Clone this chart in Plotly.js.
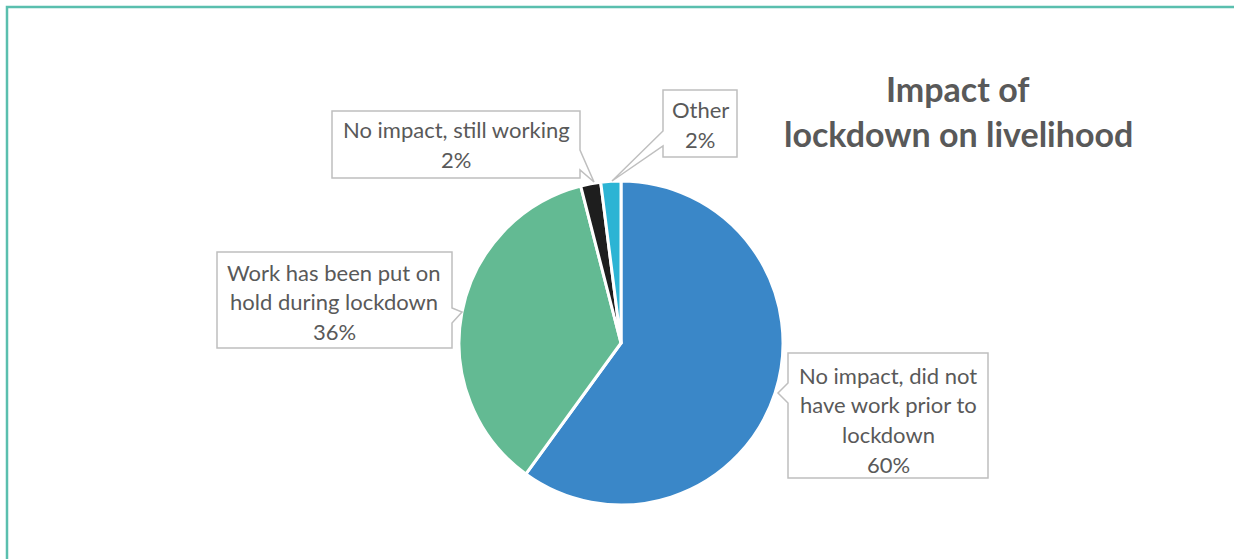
<!DOCTYPE html>
<html>
<head>
<meta charset="utf-8">
<script src="https://cdn.plot.ly/plotly-3.0.1.min.js"></script>
<style>html,body{margin:0;padding:0;background:#fff;}#chart{width:1234px;height:559px;}</style>
</head>
<body>
<div id="chart"></div>
<script>
// ---- data ----
const titleLines = ["Impact of", "lockdown on livelihood"];
const labels = [
  "No impact, did not have work prior to lockdown",
  "Work has been put on hold during lockdown",
  "No impact, still working",
  "Other"
];
const values = [60, 36, 2, 2];
const sliceColors = ["#3A87C8", "#63BA93", "#1E1E1E", "#2CB4D4"];

// ---- layout helpers (pixel positions of the label boxes) ----
const W = 1234, H = 559;
const px = x => x / W;
const py = y => 1 - y / H;
const textColor = "#595959";
const fontFam = "Lato, 'Open Sans', sans-serif";

// per slice: wrap width (chars), text centre x, first line y, line step, callout box outline
const boxes = [
  {wrap: 20, cx: 888, y0: 375, step: 29.7,
   pts: [[788,353],[988,353],[988,478],[788,478],[788,403],[778,393],[788,383]]},
  {wrap: 21, cx: 334, y0: 272, step: 29.5,
   pts: [[217,252],[452,252],[452,308],[462,312],[452,323],[452,348],[217,348]]},
  {wrap: 26, cx: 456, y0: 130, step: 29.5,
   pts: [[332,111],[580,111],[580,150],[594,182],[580,170],[580,178],[332,178]]},
  {wrap: 10, cx: 700, y0: 110, step: 29.5,
   pts: [[663,90],[737,90],[737,157],[663,157],[663,146],[612,181],[663,131]]}
];

function wrap(text, maxChars) {
  const words = text.split(" ");
  const lines = [];
  let cur = "";
  for (const w of words) {
    const test = cur ? cur + " " + w : w;
    if (test.length > maxChars && cur) { lines.push(cur); cur = w; }
    else cur = test;
  }
  if (cur) lines.push(cur);
  return lines;
}

const total = values.reduce((a, b) => a + b, 0);
const shapes = [];
const annotations = [];

// outer frame
shapes.push({type: "rect", xref: "paper", yref: "paper",
  x0: px(7), x1: px(1250), y0: py(7), y1: py(580),
  line: {color: "#5ABFAE", width: 2.5}, fillcolor: "rgba(0,0,0,0)", layer: "below"});

labels.forEach((lab, i) => {
  const b = boxes[i];
  const path = b.pts.map((p, k) => (k ? "L" : "M") + px(p[0]) + "," + py(p[1])).join(" ") + " Z";
  shapes.push({type: "path", xref: "paper", yref: "paper", path: path,
    line: {color: "#BFBFBF", width: 1.5}, fillcolor: "#FFFFFF", layer: "above"});
  const lines = wrap(lab, b.wrap);
  lines.push(Math.round(values[i] / total * 100) + "%");
  lines.forEach((ln, k) => {
    annotations.push({xref: "paper", yref: "paper", x: px(b.cx), y: py(b.y0 + k * b.step),
      xanchor: "center", yanchor: "middle", showarrow: false, text: ln,
      font: {family: fontFam, size: 22, color: textColor}});
  });
});

titleLines.forEach((t, k) => {
  annotations.push({xref: "paper", yref: "paper", x: px(958), y: py(88 + k * 45),
    xanchor: "center", yanchor: "middle", showarrow: false, text: "<b>" + t + "</b>",
    font: {family: fontFam, size: 34, color: textColor}});
});

const trace = {
  type: "pie",
  labels: labels,
  values: values,
  marker: {colors: sliceColors, line: {color: "#FFFFFF", width: 3}},
  sort: false,
  direction: "clockwise",
  rotation: 0,
  textinfo: "none",
  hoverinfo: "label+percent",
  showlegend: false,
  domain: {x: [px(459), px(783)], y: [py(505), py(181)]}
};

const layout = {
  width: W, height: H,
  margin: {l: 0, r: 0, t: 0, b: 0},
  paper_bgcolor: "#FFFFFF",
  showlegend: false,
  shapes: shapes,
  annotations: annotations
};

Plotly.newPlot("chart", [trace], layout, {displayModeBar: false, staticPlot: true});
</script>
</body>
</html>
